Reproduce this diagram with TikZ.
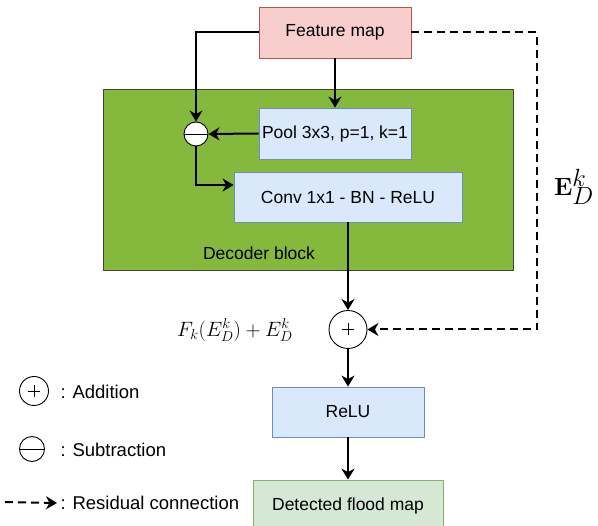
\documentclass[tikz,border=0pt]{standalone}
\usepackage[no-math]{fontspec}
\setmainfont{Liberation Sans}
\usetikzlibrary{arrows.meta,positioning,calc}
\definecolor{fmfill}{HTML}{F8CECC}
\definecolor{fmline}{HTML}{B85450}
\definecolor{blkfill}{HTML}{DAE8FC}
\definecolor{blkline}{HTML}{6C8EBF}
\definecolor{decfill}{HTML}{84B93E}
\definecolor{outfill}{HTML}{D5E8D4}
\definecolor{outline}{HTML}{82B366}
\begin{document}
\begin{tikzpicture}[x=1pt,y=-1pt,
	font=\fontsize{17.5}{20}\selectfont,
	box/.style={draw=blkline,fill=blkfill,minimum width=152pt,minimum height=51pt,inner sep=0pt,line width=0.8pt},
	op/.style={draw,fill=white,circle,inner sep=0pt,minimum size=#1,line width=0.9pt},
	arr/.style={line width=2pt,-{Stealth[length=11pt,width=13pt,inset=3.5pt]}},
	res/.style={arr,dash pattern=on 8pt off 5pt},
	legend/.style={anchor=west,font=\fontsize{18.5}{21}\selectfont}]
	\useasboundingbox (0,0) rectangle (598,526);
	\def\pl{6}%half length of the plus sign
	% blocks
	\node[draw=black!75,fill=decfill,minimum width=410pt,minimum height=181pt,line width=0.9pt] (dec) at (308,179.5) {};
	\node[anchor=base] (declbl) at (259,260) {Decoder block};
	\node[box,fill=fmfill,draw=fmline] (fm) at (335,32.5) {Feature map};
	\node[box] (pool) at (335,133.5) {Pool 3x3, p=1, k=1};
	\node[box,minimum width=228pt,minimum height=50pt] (conv) at (348,197) {Conv 1x1 - BN - ReLU};
	\node[box,minimum height=50pt] (relu) at (348,412) {ReLU};
	\node[box,fill=outfill,draw=outline,minimum width=190pt] (out) at (348,505.5) {Detected flood map};
	% operations
	\node[op=24pt] (sub) at (196,134) {};
	\draw[line width=0.9pt] (sub.west) -- (sub.east);
	\node[op=38pt] (add) at (348,329.5) {};
	\draw[line width=0.9pt] ($(add)+(-\pl,0)$) -- ++(2*\pl,0) ($(add)+(0,-\pl)$) -- ++(0,2*\pl);
	% connectors
	\draw[arr] (fm.west) -| (sub.north);
	\draw[arr] (fm.south) -- (pool.north);
	\draw[arr] (pool.west) -- (sub.east);
	\draw[arr] (sub.south) |- ([yshift=12pt]conv.west);
	\draw[arr] (conv.south) -- (add.north);
	\coordinate (turn) at (537,329.5);
	\draw[res] (fm.east) -| (turn) -- (add.east);
	\draw[arr] (add.south) -- (relu.north);
	\draw[arr] (relu.south) -- (out.north);
	% labels
	\node (ek) at (574,187) {\fontsize{34}{38}\selectfont$\mathbf{E}_D^k$};
	\node (fsum) at (235,330) {\fontsize{22}{26}\selectfont$F_k(E_D^k)+E_D^k$};
	% legend
	\node[op=29pt] (ladd) at (34,391) {};
	\draw[line width=0.9pt] ($(ladd)+(-\pl,0)$) -- ++(2*\pl,0) ($(ladd)+(0,-\pl)$) -- ++(0,2*\pl);
	\node[legend] (laddtxt) at (57,392) {: Addition};
	\node[op=25pt] (lsub) at (32,449) {};
	\draw[line width=0.9pt] (lsub.west) -- (lsub.east);
	\node[legend] (lsubtxt) at (57,450) {: Subtraction};
	\coordinate (lres) at (5,502);
	\node[legend] (lrestxt) at (57,503) {: Residual connection};
	\draw[res] (lres) -- (lrestxt.west);
\end{tikzpicture}
\end{document}
